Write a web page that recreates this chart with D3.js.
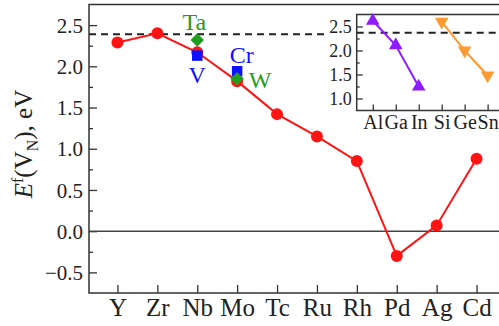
<!DOCTYPE html>
<html>
<head>
<meta charset="utf-8">
<script src="https://cdn.jsdelivr.net/npm/d3@7"></script>
<style>
  body { margin: 0; background: #fff; }
  svg text { font-family: "Liberation Serif", "Times New Roman", serif; fill: #222; }
</style>
</head>
<body>
<svg id="chart" width="499" height="326"></svg>
<script>
// main panel: 4d/5d metals
var elements = ["Y", "Zr", "Nb", "Mo", "Tc", "Ru", "Rh", "Pd", "Ag", "Cd"];
var formationE = [2.29, 2.40, 2.17, 1.82, 1.42, 1.15, 0.85, -0.30, 0.07, 0.88];
// extra points at Nb / Mo columns
var extraBlue = [{ el: "Nb", v: 2.13, name: "V" }, { el: "Mo", v: 1.94, name: "Cr" }];
var extraGreen = [{ el: "Nb", v: 2.32, name: "Ta" }, { el: "Mo", v: 1.85, name: "W" }];
var refLine = 2.39;
var yMajor = [-0.5, 0.0, 0.5, 1.0, 1.5, 2.0, 2.5];
var yMinor = [-0.25, 0.25, 0.75, 1.25, 1.75, 2.25];

// inset
var insetCats = ["Al", "Ga", "In", "Si", "Ge", "Sn"];
var group13 = ["Al", "Ga", "In"];
var group13Vals = [2.62, 2.11, 1.25];
var group14 = ["Si", "Ge", "Sn"];
var group14Vals = [2.60, 2.00, 1.48];
var insetRef = 2.37;
var insetMajor = [1.0, 1.5, 2.0, 2.5];
var insetMinor = [1.25, 1.75, 2.25];

var svg = d3.select("#chart");
var frameColor = "#333";

// ---- main axes ----
var L = 89, R = 505, T = 4.5, B = 293;
var x = d3.scalePoint().domain(elements).range([L, R]).padding(0.713);
var y = d3.scaleLinear().domain([-0.75, 2.75]).range([B, T]);

var gy = svg.append("g").attr("transform", "translate(" + L + ",0)")
  .call(d3.axisLeft(y).tickValues(yMajor).tickSize(-8).tickPadding(6)
    .tickFormat(function (d) { return d3.format(".1f")(d).replace("-", "\u2212"); }));
gy.select(".domain").remove();
gy.selectAll("text").style("font-size", "21px").attr("dy", "0.34em");
gy.selectAll("line").attr("stroke", frameColor).attr("stroke-width", 1.3);

var gym = svg.append("g").attr("transform", "translate(" + L + ",0)")
  .call(d3.axisLeft(y).tickValues(yMinor).tickSize(-4).tickFormat(""));
gym.select(".domain").remove();
gym.selectAll("line").attr("stroke", frameColor).attr("stroke-width", 1.3);

var gx = svg.append("g").attr("transform", "translate(0," + B + ")")
  .call(d3.axisBottom(x).tickSize(-8).tickPadding(6));
gx.select(".domain").remove();
gx.selectAll("text").style("font-size", "25px").attr("dy", "0.71em").attr("y", 5);
gx.selectAll("line").attr("stroke", frameColor).attr("stroke-width", 1.3);

// zero line and reference line
svg.append("line").attr("x1", L).attr("x2", R).attr("y1", y(0)).attr("y2", y(0))
  .attr("stroke", "#444").attr("stroke-width", 1.5);
svg.append("line").attr("x1", L).attr("x2", 326).attr("y1", y(refLine)).attr("y2", y(refLine))
  .attr("stroke", "#222").attr("stroke-width", 2).attr("stroke-dasharray", "7,5");

svg.append("rect").attr("x", L).attr("y", T).attr("width", R - L).attr("height", B - T)
  .attr("fill", "none").attr("stroke", frameColor).attr("stroke-width", 1.5);

// red series
var red = "#ff1414";
var mainPts = elements.map(function (e, i) { return [e, formationE[i]]; });
svg.append("path").datum(mainPts)
  .attr("d", d3.line().x(function (d) { return x(d[0]); }).y(function (d) { return y(d[1]); }))
  .attr("fill", "none").attr("stroke", red).attr("stroke-width", 2);
svg.selectAll(".dot").data(mainPts).enter().append("circle")
  .attr("cx", function (d) { return x(d[0]); }).attr("cy", function (d) { return y(d[1]); })
  .attr("r", 6).attr("fill", red);

var blue = "#1010ff", green = "#1f9e1f";
svg.selectAll(".sq").data(extraBlue).enter().append("path")
  .attr("d", d3.symbol(d3.symbolSquare, 110))
  .attr("transform", function (d) { return "translate(" + x(d.el) + "," + y(d.v) + ")"; })
  .attr("fill", blue);
svg.selectAll(".dia").data(extraGreen).enter().append("path")
  .attr("d", d3.symbol(d3.symbolSquare, 90))
  .attr("transform", function (d) { return "translate(" + x(d.el) + "," + y(d.v) + ") rotate(45)"; })
  .attr("fill", green);

// labels for the extra points
var labelPos = { Ta: [-3, -10], V: [0, 27], Cr: [4.5, -8], W: [23, 9] };
svg.selectAll(".lab").data(extraBlue.concat(extraGreen)).enter().append("text")
  .attr("x", function (d) { return x(d.el) + labelPos[d.name][0]; })
  .attr("y", function (d) { return y(d.v) + labelPos[d.name][1]; })
  .attr("text-anchor", "middle").style("font-size", "24px")
  .style("fill", function (d) { return extraBlue.indexOf(d) >= 0 ? blue : green; })
  .text(function (d) { return d.name; });

// y title
var title = svg.append("text").attr("transform", "translate(32,144) rotate(-90)")
  .attr("text-anchor", "middle").style("font-size", "25px");
title.append("tspan").style("font-style", "italic").text("E");
title.append("tspan").attr("dy", -9).style("font-size", "16px").text("f");
title.append("tspan").attr("dy", 9).text("(V");
title.append("tspan").attr("dy", 6).style("font-size", "16px").text("N");
title.append("tspan").attr("dy", -6).text("), eV");

// ---- inset ----
var iL = 356.7, iR = 503.7, iT = 14.5, iB = 110.5;
var ix = d3.scalePoint().domain(insetCats).range([iL, iR]).padding(0.7);
var iy = d3.scaleLinear().domain([0.75, 2.75]).range([iB, iT]);

var igy = svg.append("g").attr("transform", "translate(" + iL + ",0)")
  .call(d3.axisLeft(iy).tickValues(insetMajor).tickSize(-6).tickPadding(5).tickFormat(d3.format(".1f")));
igy.select(".domain").remove();
igy.selectAll("text").style("font-size", "18px").attr("dy", "0.34em");
igy.selectAll("line").attr("stroke", frameColor).attr("stroke-width", 1.3);
var igym = svg.append("g").attr("transform", "translate(" + iL + ",0)")
  .call(d3.axisLeft(iy).tickValues(insetMinor).tickSize(-3).tickFormat(""));
igym.select(".domain").remove();
igym.selectAll("line").attr("stroke", frameColor).attr("stroke-width", 1.3);

var igx = svg.append("g").attr("transform", "translate(0," + iB + ")")
  .call(d3.axisBottom(ix).tickSize(-6).tickPadding(4));
igx.select(".domain").remove();
igx.selectAll("text").style("font-size", "20px").attr("dy", "0.71em").attr("y", 4);
igx.selectAll("line").attr("stroke", frameColor).attr("stroke-width", 1.3);

svg.append("line").attr("x1", iL).attr("x2", iR).attr("y1", iy(insetRef)).attr("y2", iy(insetRef))
  .attr("stroke", "#222").attr("stroke-width", 2).attr("stroke-dasharray", "7,5");

svg.append("rect").attr("x", iL).attr("y", iT).attr("width", iR - iL).attr("height", iB - iT)
  .attr("fill", "none").attr("stroke", frameColor).attr("stroke-width", 1.5);

function insetSeries(cats, vals, color, rot) {
  var pts = cats.map(function (c, i) { return [c, vals[i]]; });
  svg.append("path").datum(pts)
    .attr("d", d3.line().x(function (d) { return ix(d[0]); }).y(function (d) { return iy(d[1]); }))
    .attr("fill", "none").attr("stroke", color).attr("stroke-width", 2);
  svg.selectAll(null).data(pts).enter().append("path")
    .attr("d", d3.symbol(d3.symbolTriangle, 80))
    .attr("transform", function (d) { return "translate(" + ix(d[0]) + "," + iy(d[1]) + ") rotate(" + rot + ")"; })
    .attr("fill", color);
}
insetSeries(group13, group13Vals, "#8f1cff", 0);
insetSeries(group14, group14Vals, "#ff9a30", 180);
</script>
</body>
</html>
